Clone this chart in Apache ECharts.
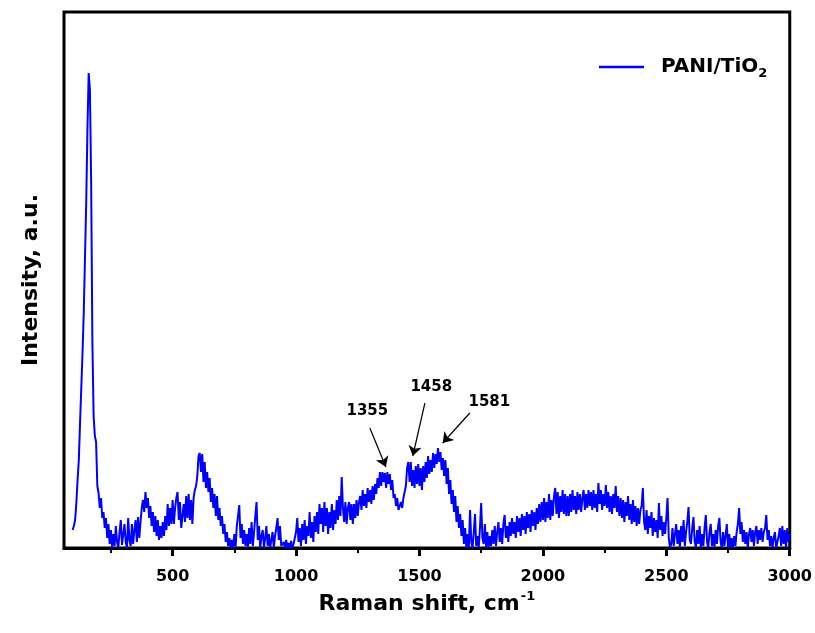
<!DOCTYPE html>
<html><head><meta charset="utf-8">
<script src="https://cdn.jsdelivr.net/npm/echarts@6/dist/echarts.min.js"></script>
<style>html,body{margin:0;padding:0;background:#fff}#c{width:815px;height:633px}</style>
</head><body><div id="c"></div>
<script>
// Raman shift sampling step (cm-1)
const SHIFT_STEP = 5;

// Intensity (a.u.) from 95 to 995 cm-1
const startA = 95;
const spectrumA = [
  18,22,28,45,68,88,125,160,195,235,290,345,420,475,458,365,205,132,112,106,62,
  55,40,50,30,36,20,30,10,24,4,18,0,14,2,22,6,0,16,28,3,
  2,24,6,0,30,8,2,24,4,18,28,6,31,10,26,40,48,36,56,40,
  50,30,42,22,36,16,32,12,28,8,22,10,26,12,32,18,44,22,40,24,
  48,24,40,50,56,28,46,20,22,44,26,52,30,54,28,48,24,50,58,62,
  72,92,95,76,94,66,86,60,76,56,70,46,60,40,54,32,52,28,40,22,
  32,14,24,6,16,2,10,0,8,0,14,0,22,32,43,10,24,4,18,2,
  14,0,20,4,26,2,16,32,46,8,22,0,12,18,0,10,22,2,14,0,
  8,16,0,12,20,30,8,22,2,0,6,0,8,0,5,0,7,0,4,10
];

// Intensity (a.u.) from 1000 to 1995 cm-1
const startB = 1000;
const spectrumB = [
  16,30,6,20,2,24,8,28,4,22,12,36,10,26,6,32,16,36,14,44,
  24,40,16,46,22,40,14,36,20,44,18,38,24,48,28,52,32,71,40,26,
  46,24,40,46,28,44,24,44,30,48,32,46,52,38,58,42,54,40,60,46,
  58,44,62,48,64,54,70,60,76,62,76,66,75,60,76,64,74,58,68,50,
  54,42,50,38,38,46,40,50,56,62,80,86,66,86,62,78,60,82,64,84,
  62,80,58,82,66,86,70,92,74,88,76,95,80,94,84,100,86,96,78,90,
  72,88,64,80,54,68,44,58,36,52,26,42,20,34,12,28,4,20,0,14,
  0,38,6,0,16,34,2,12,0,20,45,10,4,24,0,16,0,12,2,18,
  4,22,2,16,26,6,20,4,24,33,10,22,6,26,12,30,14,26,10,32,
  16,30,12,34,18,32,14,36,20,34,16,38,22,36,18,40,24,44,26,46
];

// Intensity (a.u.) from 2000 to 3000 cm-1
const startC = 2000;
const spectrumC = [
  28,50,26,46,30,54,28,48,32,52,60,34,56,30,52,36,58,34,54,32,
  52,32,54,36,58,38,52,34,56,38,54,36,50,58,38,54,40,58,42,56,
  38,58,40,54,36,65,44,58,38,54,42,63,40,56,36,52,34,54,40,62,
  36,52,32,50,30,48,26,46,32,52,28,44,24,48,26,42,22,40,24,38,
  42,60,26,18,38,14,32,20,36,12,30,16,28,10,45,18,32,12,26,14,
  30,50,10,0,4,20,2,14,24,4,18,0,22,6,28,2,16,26,41,8,
  4,20,31,6,0,18,4,22,0,14,2,20,33,6,0,16,24,2,14,0,
  18,4,22,30,6,0,16,2,12,24,0,14,0,10,0,12,2,16,24,40,
  14,26,6,18,4,16,0,14,20,6,18,2,16,22,4,18,8,20,6,16,
  20,33,8,18,2,12,0,10,16,0,0,12,20,2,22,4,18,0,20,6,14
];

// Axis ticks
const majorTicks = [500, 1000, 1500, 2000, 2500, 3000];
const minorTicks = [250, 750, 1250, 1750, 2250, 2750];

// Peak annotations
const peakLabels = ['1355', '1458', '1581'];
const peakLabelPos = [[1291, 136], [1550, 160], [1785, 145]];
const arrowStart = [[1299, 120], [1522, 145], [1704, 135]];
const arrowEnd = [[1364, 81], [1473, 92], [1594, 105]];

function build(start, arr) { return arr.map((v, i) => [start + i * SHIFT_STEP, v]); }
const spectrum = build(startA, spectrumA).concat(build(startB, spectrumB), build(startC, spectrumC));

const FONT = 'DejaVu Sans';
const chart = echarts.init(document.getElementById('c'), null, { renderer: 'canvas' });
chart.setOption({
  animation: false,
  backgroundColor: '#fff',
  grid: { left: 64, right: 25, top: 12, bottom: 85, show: true, borderColor: '#000', borderWidth: 3 },
  legend: {
    left: 594, top: 52, itemWidth: 45, itemHeight: 2.5, icon: 'rect',
    data: [{ name: 'PANI/TiO2', icon: 'rect', itemStyle: { color: '#0000ff' } }],
    formatter: () => '{a|PANI/TiO}{s|2}',
    textStyle: {
      rich: {
        a: { fontFamily: FONT, fontWeight: 'bold', fontSize: 20, color: '#000', padding: [0, 0, 0, 12] },
        s: { fontFamily: FONT, fontWeight: 'bold', fontSize: 13, color: '#000', padding: [14, 0, 0, 0] }
      }
    }
  },
  xAxis: [{
    type: 'value', min: 60, max: 3000, position: 'bottom',
    axisLine: { show: true, lineStyle: { color: '#000', width: 3 } },
    axisTick: { show: true, customValues: majorTicks, length: 8, lineStyle: { width: 3, color: '#000' } },
    axisLabel: { customValues: majorTicks, formatter: v => String(v), margin: 21, fontFamily: FONT, fontWeight: 'bold', fontSize: 16, color: '#000' },
    splitLine: { show: false },
    name: '{a|Raman shift, cm}{b|-1}', nameLocation: 'middle', nameGap: 40,
    nameTextStyle: {
      rich: {
        a: { fontFamily: FONT, fontWeight: 'bold', fontSize: 22, color: '#000' },
        b: { fontFamily: FONT, fontWeight: 'bold', fontSize: 13, color: '#000', padding: [0, 0, 16, 1] }
      }
    }
  }, {
    type: 'value', min: 60, max: 3000, position: 'bottom',
    axisLine: { show: false },
    axisTick: { show: true, customValues: minorTicks, length: 5, lineStyle: { width: 2, color: '#000' } },
    axisLabel: { show: false },
    splitLine: { show: false }
  }],
  yAxis: {
    type: 'value', min: 0, max: 536,
    axisLine: { show: false }, axisTick: { show: false }, axisLabel: { show: false }, splitLine: { show: false },
    name: 'Intensity, a.u.', nameLocation: 'middle', nameGap: 22,
    nameTextStyle: { fontFamily: FONT, fontWeight: 'bold', fontSize: 22, color: '#000' }
  },
  series: [{
    type: 'line', name: 'PANI/TiO2', data: spectrum, symbol: 'none', showSymbol: false, clip: true,
    lineStyle: { color: '#0000ff', width: 2 }, itemStyle: { color: '#0000ff' }
  }, {
    type: 'scatter', name: 'peaks', silent: true, symbolSize: 1,
    data: peakLabels.map((t, i) => [peakLabelPos[i][0], peakLabelPos[i][1], t]),
    itemStyle: { color: 'rgba(255,255,255,0)' },
    label: {
      show: true, position: [0, 0], align: 'center', verticalAlign: 'middle',
      formatter: p => p.value[2], fontFamily: FONT, fontWeight: 'bold', fontSize: 15,
      color: '#000', textBorderWidth: 0, opacity: 1
    },
    markLine: {
      silent: true, symbol: ['none', 'arrow'], symbolSize: 10,
      lineStyle: { color: '#000', width: 1.2, type: 'solid', opacity: 1 }, label: { show: false },
      data: arrowStart.map((s, i) => [{ coord: s }, { coord: arrowEnd[i] }])
    }
  }]
});
</script></body></html>
